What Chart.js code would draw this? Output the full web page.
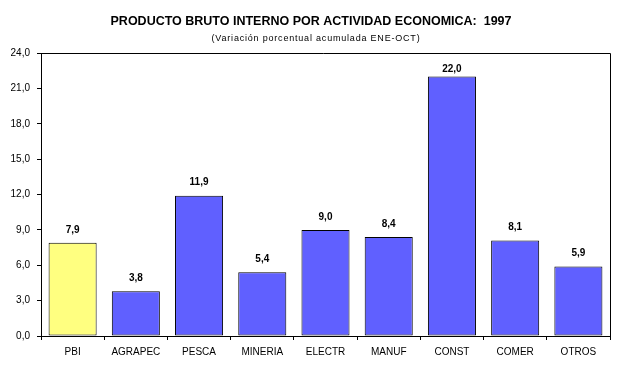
<!DOCTYPE html>
<html><head><meta charset="utf-8">
<script src="https://cdn.jsdelivr.net/npm/chart.js@4/dist/chart.umd.min.js"></script>
<style>html,body{margin:0;padding:0;background:#fff}#c{display:block}</style>
</head><body>
<canvas id="c" width="625" height="367"></canvas>
<script>
const categories = ["PBI","AGRAPEC","PESCA","MINERIA","ELECTR","MANUF","CONST","COMER","OTROS"];
const values = [7.9, 3.8, 11.9, 5.4, 9.0, 8.4, 22.0, 8.1, 5.9];
const barColors = ["#FFFF80","#6060FF","#6060FF","#6060FF","#6060FF","#6060FF","#6060FF","#6060FF","#6060FF"];
const yTicks = [0,3,6,9,12,15,18,21,24];
const titleText = "PRODUCTO BRUTO INTERNO POR ACTIVIDAD ECONOMICA:  1997";
const subtitleText = "(Variación porcentual acumulada ENE-OCT)";

const fmt = v => v.toFixed(1).replace('.', ',');

const labelPlugin = {
  id: 'labels',
  afterDatasetsDraw(chart) {
    const ctx = chart.ctx;
    const meta = chart.getDatasetMeta(0);
    ctx.save();
    ctx.font = 'bold 10px "Liberation Sans", Arial, sans-serif';
    ctx.fillStyle = '#000';
    ctx.textAlign = 'center';
    ctx.textBaseline = 'middle';
    meta.data.forEach((bar, i) => {
      let y = bar.y - 13;
      if (y < chart.chartArea.top + 16) y = bar.y - 7;
      ctx.fillText(fmt(values[i]), bar.x, y);
    });
    // plot border top and right
    const a = chart.chartArea;
    ctx.strokeStyle = '#000';
    ctx.lineWidth = 1;
    ctx.beginPath();
    ctx.moveTo(a.left - 4, Math.round(a.top) + 0.5);
    ctx.lineTo(Math.round(a.right) + 0.5, Math.round(a.top) + 0.5);
    ctx.lineTo(Math.round(a.right) + 0.5, Math.round(a.bottom));
    ctx.stroke();
    // title
    ctx.font = 'bold 12.5px "Liberation Sans", Arial, sans-serif';
    ctx.fillText(titleText, 311, 22);
    // subtitle with letter spacing
    ctx.font = '9px "Liberation Sans", Arial, sans-serif';
    ctx.letterSpacing = '0.8px';
    ctx.fillText(subtitleText, 316, 39);
    ctx.restore();
  }
};

new Chart(document.getElementById('c'), {
  type: 'bar',
  data: {
    labels: categories,
    datasets: [{
      data: values,
      backgroundColor: barColors,
      borderColor: '#000',
      borderWidth: 1,
      borderSkipped: false,
      barPercentage: 0.76,
      categoryPercentage: 1.0
    }]
  },
  options: {
    responsive: false,
    animation: false,
    devicePixelRatio: 1,
    layout: { padding: { left: 0, right: 15, top: 53, bottom: 0 } },
    plugins: {
      legend: { display: false },
      tooltip: { enabled: false },
      title: { display: false },
      subtitle: { display: false }
    },
    scales: {
      x: {
        grid: { display: true, offset: true, drawOnChartArea: false, drawTicks: true, tickLength: 4, color: '#000' },
        border: { display: true, color: '#000', width: 1 },
        ticks: { color: '#000', font: { family: '"Liberation Sans", Arial, sans-serif', size: 10 }, padding: 6, maxRotation: 0, autoSkip: false },
        afterFit(s) { s.height = 31; }
      },
      y: {
        min: 0, max: 24,
        afterBuildTicks(s) { s.ticks = yTicks.map(v => ({ value: v })); },
        grid: { display: true, drawOnChartArea: false, drawTicks: true, tickLength: 4, color: '#000' },
        border: { display: true, color: '#000', width: 1 },
        ticks: { color: '#000', font: { family: '"Liberation Sans", Arial, sans-serif', size: 10 }, padding: 7, callback: v => fmt(v) },
        afterFit(s) { s.width = 41; }
      }
    }
  },
  plugins: [labelPlugin]
});
</script>
</body></html>
